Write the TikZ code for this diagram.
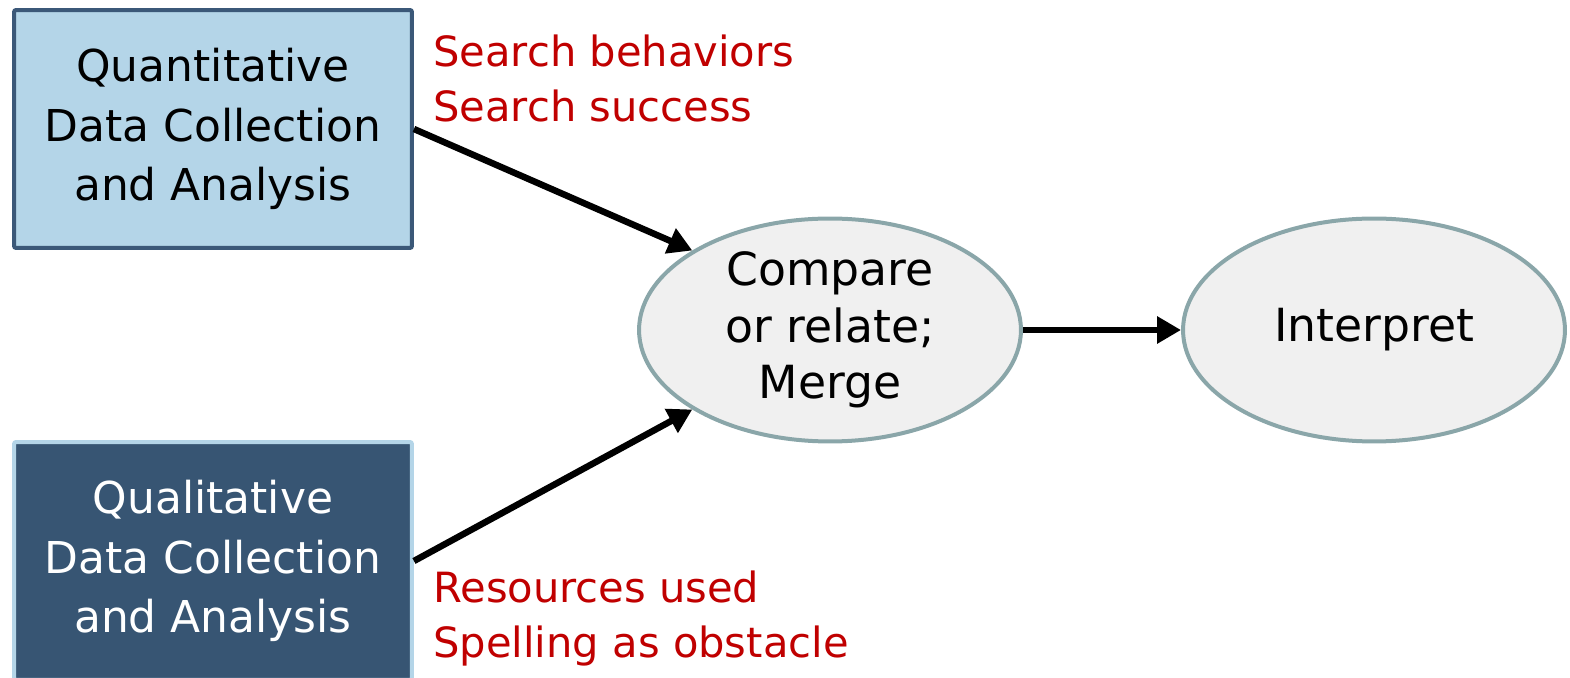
\documentclass[tikz,border=0pt]{standalone}
\usepackage{fontspec}
\setmainfont{DejaVu Sans}
\usetikzlibrary{positioning,arrows.meta,shapes.geometric}

\definecolor{quanfill}{HTML}{B4D5E8}
\definecolor{quanline}{HTML}{3B5878}
\definecolor{qualfill}{HTML}{375573}
\definecolor{ovalfill}{HTML}{F0F0F0}
\definecolor{ovalline}{HTML}{8AA6A9}
\definecolor{notered}{HTML}{C00000}

\begin{document}
\begin{tikzpicture}[x=0.02cm,y=-0.02cm,>={Triangle[length=0.48cm,width=0.52cm]},
  box/.style={rectangle,rounded corners=0.04cm,line width=0.08cm,minimum width=7.96cm,
    minimum height=4.76cm,align=center,inner sep=0pt,font=\fontsize{25}{34}\selectfont},
  oval/.style={ellipse,draw=ovalline,fill=ovalfill,line width=0.08cm,minimum width=7.64cm,
    minimum height=4.46cm,inner sep=0pt,align=center,font=\fontsize{26}{32}\selectfont},
  note/.style={text=notered,align=left,inner sep=0pt,anchor=base west,
    font=\fontsize{23.7}{31.6}\selectfont},
  flow/.style={->,line width=0.13cm}]
  \clip (0,0) rectangle (1570,678);
  % the two strands
  \node[box,fill=quanfill,draw=quanline] (quan) at (213,129) {Quantitative\\Data Collection\\and Analysis};
  \node[box,fill=qualfill,draw=quanfill,text=white] (qual) at (213,561) {Qualitative\\Data Collection\\and Analysis};
  \node[note] (quannote) at (433,122) {Search behaviors\\Search success};
  \node[note] (qualnote) at (433,658) {Resources used\\Spelling as obstacle};
  % merge and interpret
  \node[oval] (merge) at (830,330) {Compare\\or relate;\\Merge};
  \node[oval] (interp) at (1374,330) {Interpret};
  \draw[flow] (quan.east) -- (merge.150);
  \draw[flow] (qual.east) -- (merge.210);
  \draw[flow] (merge) -- (interp);
\end{tikzpicture}
\end{document}
